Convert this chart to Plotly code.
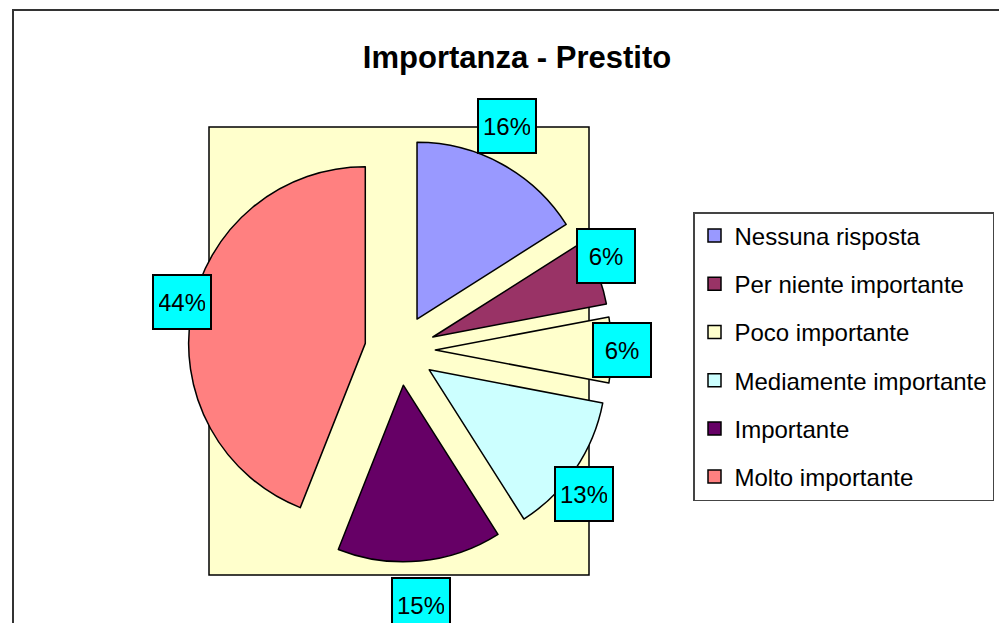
import math
import plotly.graph_objects as go

categorie = ["Nessuna risposta", "Per niente importante", "Poco importante",
             "Mediamente importante", "Importante", "Molto importante"]
percentuali = [16, 6, 6, 13, 15, 44]
colori = ["#9999FF", "#993366", "#FFFFCC", "#CCFFFF", "#660066", "#FF8080"]

W, H = 999, 623
FONT = "Liberation Sans, Arial, sans-serif"

# centro della torta e raggi delle etichette (pixel)
cx, cy = 400, 350
rx, ry = 222, 256
semi = 212


def px_x(v):
    return v / W


def px_y(v):
    return 1 - v / H


fig = go.Figure()

fig.add_trace(go.Pie(
    labels=categorie,
    values=percentuali,
    sort=False,
    direction="clockwise",
    rotation=0,
    pull=[0.2] * len(percentuali),
    marker=dict(colors=colori, line=dict(color="black", width=1.5)),
    textinfo="none",
    showlegend=False,
    domain=dict(x=[px_x(cx - semi), px_x(cx + semi)],
                y=[px_y(cy + semi), px_y(cy - semi)]),
))

# voci di legenda
for i, (cat, col) in enumerate(zip(categorie, colori)):
    fig.add_trace(go.Scatter(
        x=[None], y=[None], mode="markers", name=cat, legendgroup=f"g{i}",
        marker=dict(symbol="square", size=13, color=col,
                    line=dict(color="black", width=1.5)),
    ))

# etichette percentuali
cum = 0
for p in percentuali:
    mid = math.radians((cum + p / 2) / sum(percentuali) * 360)
    cum += p
    fig.add_annotation(
        x=px_x(cx + rx * math.sin(mid)), y=px_y(cy - ry * math.cos(mid)),
        xref="paper", yref="paper", xanchor="center", yanchor="middle",
        text=f"{p}%", showarrow=False,
        font=dict(family=FONT, size=24, color="black"),
        bgcolor="#00FFFF", bordercolor="black", borderwidth=2, borderpad=5,
        width=46, height=42,
    )

fig.update_layout(
    width=W, height=H,
    margin=dict(l=0, r=0, t=0, b=0),
    paper_bgcolor="white",
    plot_bgcolor="rgba(0,0,0,0)",
    xaxis=dict(visible=False),
    yaxis=dict(visible=False),
    title=dict(text="Importanza - Prestito", x=px_x(517), xanchor="center",
               y=px_y(57), yanchor="middle",
               font=dict(family=FONT, size=31, color="black", weight="bold")),
    legend=dict(x=px_x(693), xanchor="left", y=px_y(212), yanchor="top",
                bgcolor="white", bordercolor="#444", borderwidth=1.5,
                font=dict(family=FONT, size=24, color="black"),
                tracegroupgap=14, itemsizing="trace"),
    shapes=[
        dict(type="rect", xref="paper", yref="paper", layer="below",
             x0=px_x(209), x1=px_x(589), y0=px_y(575), y1=px_y(127),
             fillcolor="#FFFFCC", line=dict(color="black", width=1.5)),
        dict(type="rect", xref="paper", yref="paper", layer="below",
             x0=px_x(13), x1=1.2, y0=-0.2, y1=px_y(10),
             fillcolor="rgba(0,0,0,0)", line=dict(color="#333", width=2)),
    ],
)

fig.write_html("out.html", config={"displayModeBar": False},
               post_script="document.body.style.margin='0';")
